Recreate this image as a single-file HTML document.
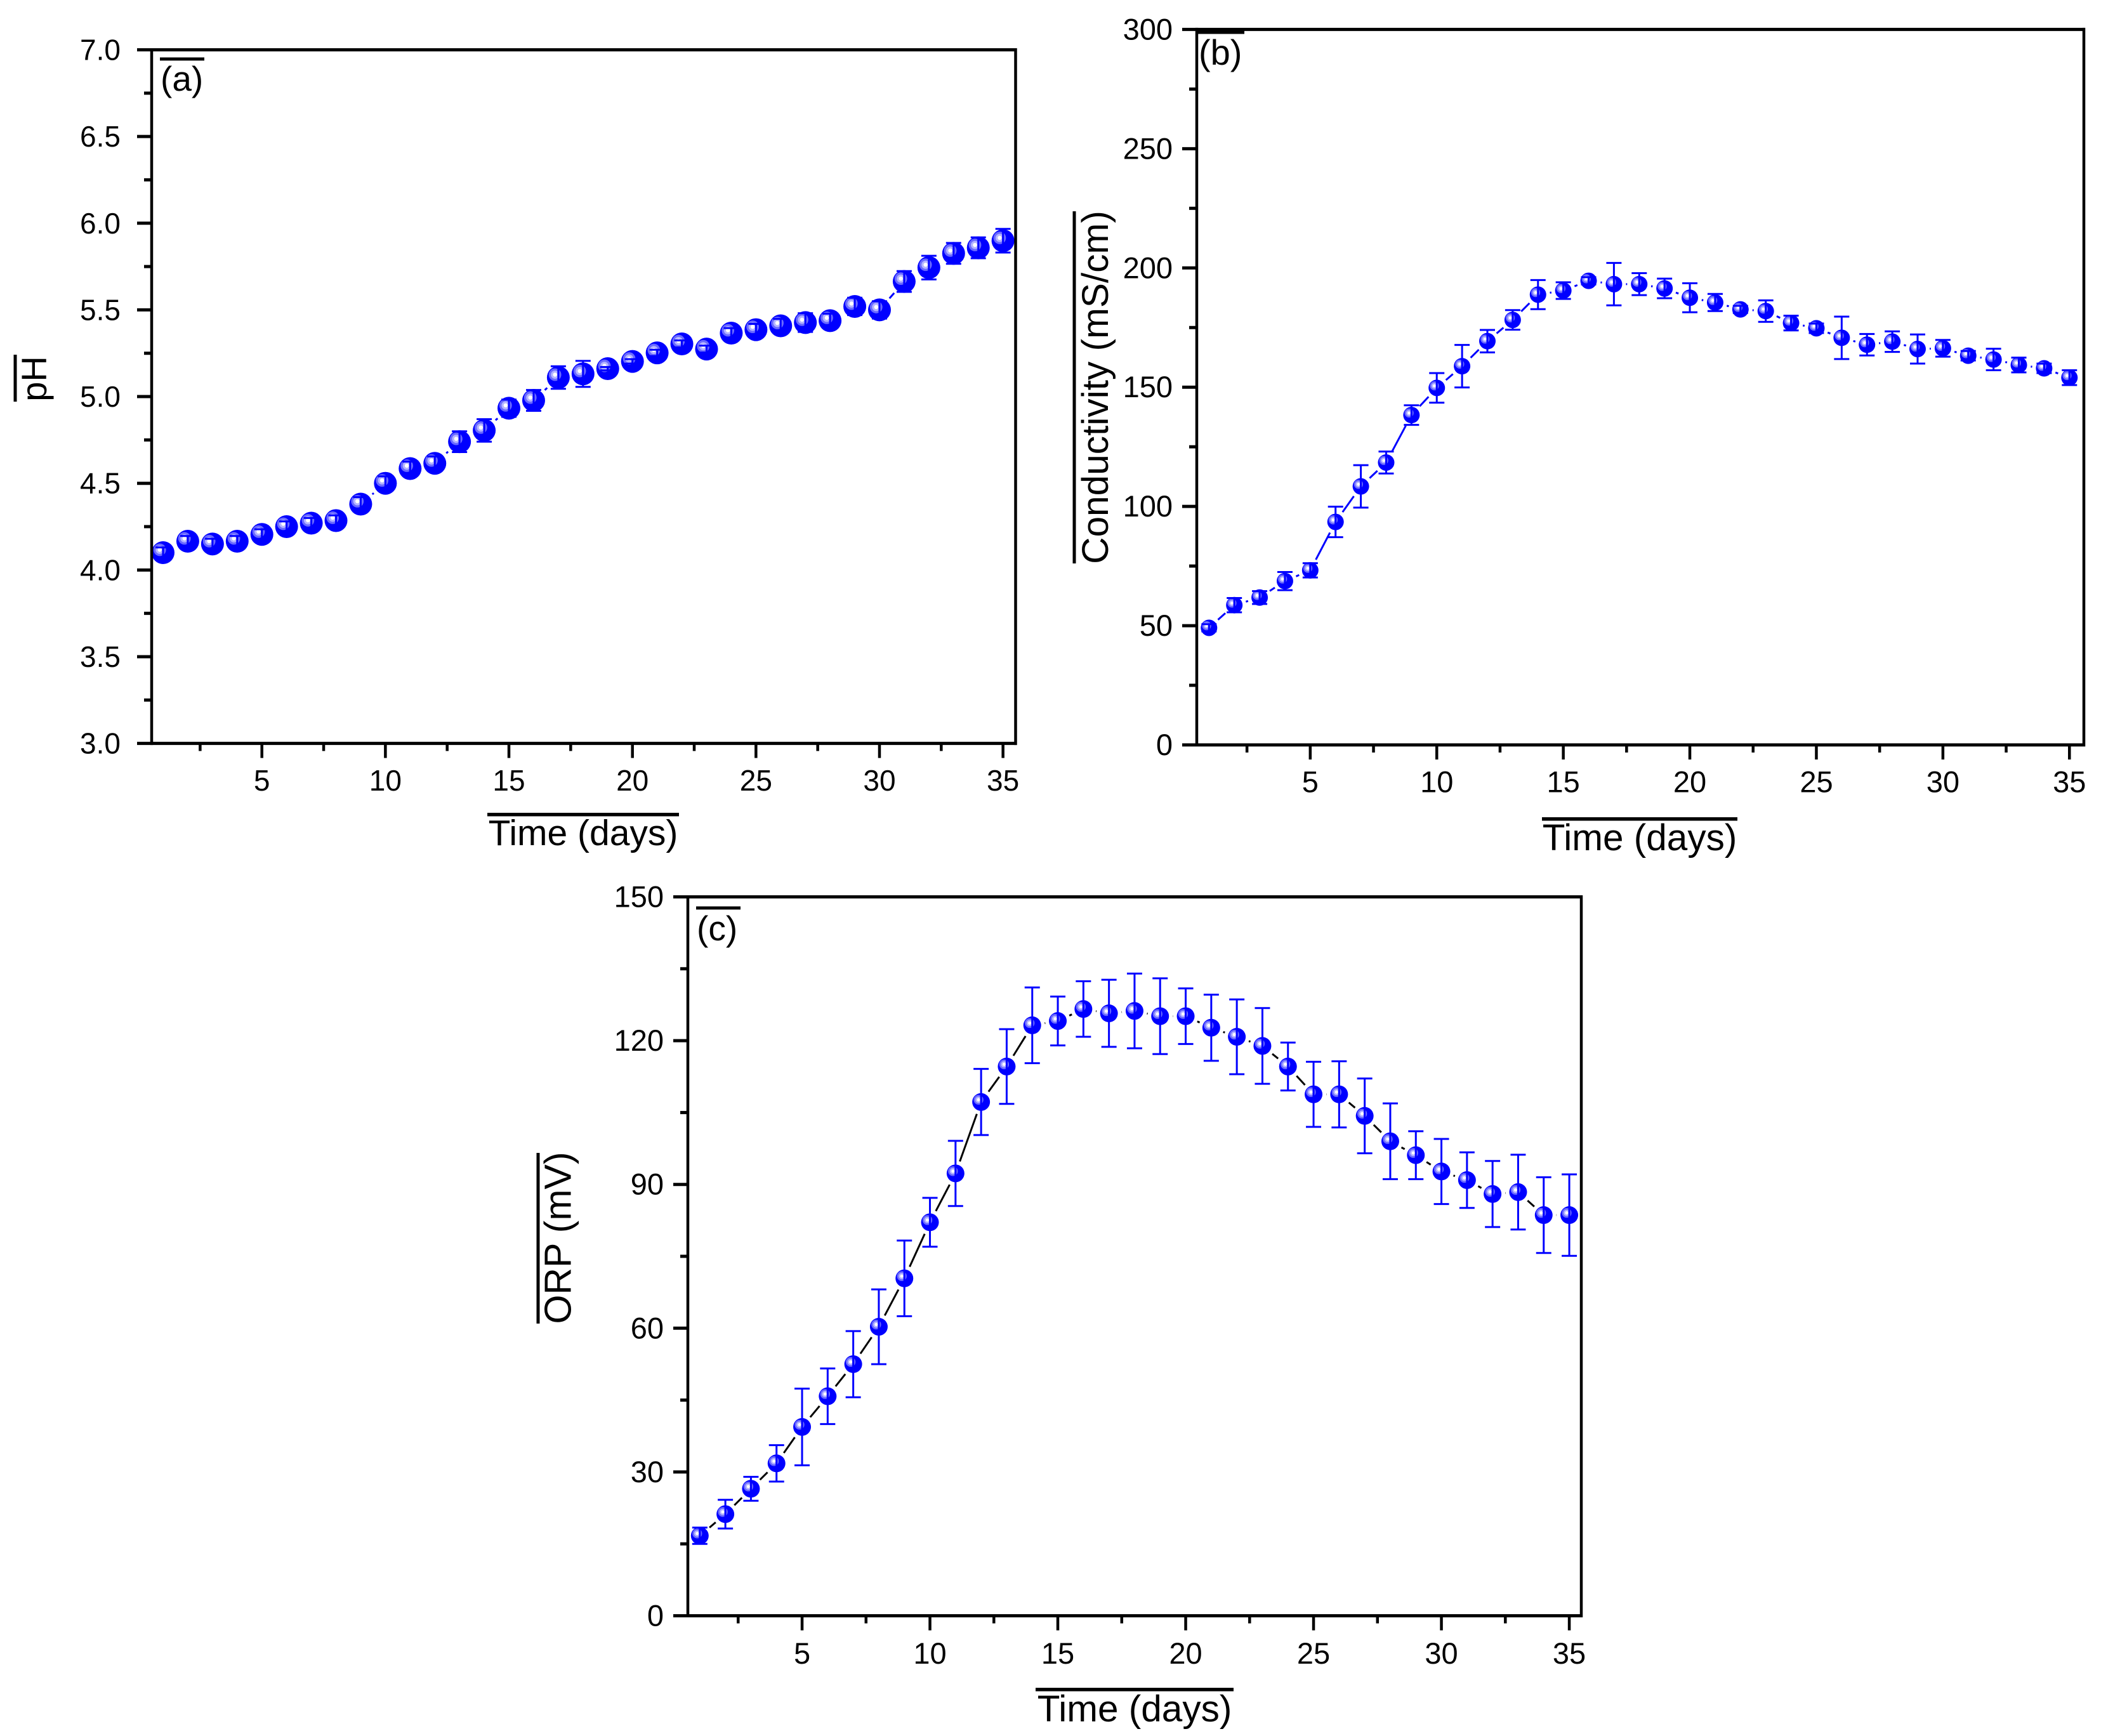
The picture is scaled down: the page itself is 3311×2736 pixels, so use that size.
<!DOCTYPE html>
<html lang="en">
<head>
<meta charset="utf-8">
<title>pH, conductivity and ORP over time</title>
<style>
html,body{margin:0;padding:0;background:#fff;}
svg{display:block;}
text{font-family:"Liberation Sans",sans-serif;fill:#000;}
</style>
</head>
<body>
<svg id="figure" xmlns="http://www.w3.org/2000/svg" width="3311" height="2736" viewBox="0 0 3311 2736">
  <rect x="0" y="0" width="3311" height="2736" fill="#fff"/>

  <g id="panel-a"></g>
  <g id="panel-b"></g>
  <g id="panel-c"></g>

  <rect x="252" y="90.5" width="70" height="5"/>
  <text x="253" y="143" font-size="55">(a)</text>
  <rect x="1886" y="48.5" width="75" height="5"/>
  <text x="1889" y="102" font-size="56">(b)</text>
  <rect x="1097" y="1428.5" width="70" height="5"/>
  <text x="1098" y="1482" font-size="55">(c)</text>

  <rect x="768" y="1281" width="302" height="5.5"/>
  <text x="919" y="1332" font-size="57" text-anchor="middle">Time (days)</text>
  <rect x="2430" y="1288" width="308" height="5.5"/>
  <text x="2584" y="1340" font-size="58.5" text-anchor="middle">Time (days)</text>
  <rect x="1632" y="2660" width="312" height="5.5"/>
  <text x="1788" y="2713" font-size="58.5" text-anchor="middle">Time (days)</text>

  <rect x="21.5" y="559" width="5" height="74"/>
  <text transform="translate(73 597) rotate(-90)" font-size="56" text-anchor="middle">pH</text>
  <rect x="1690.5" y="333" width="5" height="555"/>
  <text transform="translate(1746 610.5) rotate(-90)" font-size="58.6" text-anchor="middle">Conductivity (mS/cm)</text>
  <rect x="845.5" y="1817" width="5" height="269"/>
  <text transform="translate(899.5 1951) rotate(-90)" font-size="59" text-anchor="middle">ORP (mV)</text>
</svg>

<script>
// ---------- shared x axis ----------
var days = [1,2,3,4,5,6,7,8,9,10,11,12,13,14,15,16,17,18,19,20,21,22,23,24,25,26,27,28,29,30,31,32,33,34,35];
var xTickValues = [5,10,15,20,25,30,35];
var xMinorTickValues = [2.5,7.5,12.5,17.5,22.5,27.5,32.5];

// ---------- panel (a) pH ----------
var phValues = [4.10,4.166,4.15,4.166,4.205,4.25,4.27,4.285,4.38,4.50,4.585,4.615,4.74,4.805,4.933,4.978,5.11,5.131,5.161,5.203,5.252,5.304,5.274,5.366,5.386,5.408,5.427,5.438,5.52,5.50,5.664,5.744,5.826,5.858,5.899];
var phErrors = [0.03,0.03,0.03,0.03,0.03,0.03,0.03,0.03,0.04,0.04,0.04,0.04,0.06,0.065,0.05,0.06,0.065,0.075,0.01,0.013,0.018,0.02,0.02,0.029,0.033,0.04,0.054,0.04,0.05,0.05,0.06,0.068,0.06,0.06,0.068];
var phTickValues = [3,3.5,4,4.5,5,5.5,6,6.5,7];
var phTickLabels = ["3.0","3.5","4.0","4.5","5.0","5.5","6.0","6.5","7.0"];
var phMinorTickValues = [3.25,3.75,4.25,4.75,5.25,5.75,6.25,6.75];

// ---------- panel (b) conductivity ----------
var condValues = [49.1,58.6,61.8,68.7,73.2,93.5,108.4,118.4,138.3,149.7,158.8,169.3,178.2,188.8,190.5,194.6,193.2,193.2,191.4,187.5,185.5,182.6,181.9,176.9,174.7,170.7,167.8,169.1,166,166.3,163.2,161.6,159.3,157.9,154];
var condErrors = [1.5,3,2.7,3.8,3,6.4,8.9,4.6,4.1,6.2,8.9,4.7,4.1,6.1,3.5,1.5,8.9,4.6,4.1,6.1,3.6,1.5,4.5,3.1,2,8.9,4.5,4.3,6.1,3.5,2,4.5,3.1,2,3.1];
var condTickValues = [0,50,100,150,200,250,300];
var condTickLabels = ["0","50","100","150","200","250","300"];
var condMinorTickValues = [25,75,125,175,225,275];

// ---------- panel (c) ORP ----------
var orpValues = [16.7,21.2,26.5,31.8,39.4,45.8,52.5,60.3,70.4,82.1,92.3,107.2,114.6,123.2,124.1,126.6,125.7,126.2,125.1,125.1,122.7,120.8,118.9,114.6,108.8,108.8,104.3,99,96.1,92.7,90.9,88,88.4,83.6,83.6];
var orpErrors = [1.7,3,2.5,3.8,8,5.8,6.9,7.8,7.9,5.1,6.8,6.9,7.8,7.9,5.1,5.8,7,7.8,7.9,5.8,6.9,7.8,7.9,5,6.8,6.9,7.8,7.9,5,6.8,5.8,6.9,7.8,7.9,8.5];
var orpTickValues = [0,30,60,90,120,150];
var orpTickLabels = ["0","30","60","90","120","150"];
var orpMinorTickValues = [15,45,75,105,135];

var SVG_NS = "http://www.w3.org/2000/svg";

function shape(tag, parent, attrs) {
  var node = document.createElementNS(SVG_NS, tag);
  for (var k in attrs) { node.setAttribute(k, attrs[k]); }
  parent.appendChild(node);
  return node;
}

function drawPanel(p) {
  var root = document.getElementById(p.id);
  var xAxis = function (d) { return p.left + (d - p.xMin) * (p.right - p.left) / (p.xMax - p.xMin); };
  var yAxis = function (v) { return p.bottom - (v - p.yMin) * (p.bottom - p.top) / (p.yMax - p.yMin); };
  var majorLen = 23, minorLen = 12, i;

  // connecting line segments, trimmed around the markers
  var gap = p.radius + 6;
  for (i = 0; i < p.values.length - 1; i++) {
    var x1 = xAxis(days[i]), y1 = yAxis(p.values[i]);
    var x2 = xAxis(days[i + 1]), y2 = yAxis(p.values[i + 1]);
    var dist = Math.sqrt((x2 - x1) * (x2 - x1) + (y2 - y1) * (y2 - y1));
    if (dist <= gap * 2) { continue; }
    var ux = (x2 - x1) / dist, uy = (y2 - y1) / dist;
    var seg = shape("line", root, {x1: x1 + ux * gap, y1: y1 + uy * gap, x2: x2 - ux * gap, y2: y2 - uy * gap, stroke: p.lineColor, "stroke-width": 3});
    
    
  }

  // markers
  for (i = 0; i < p.values.length; i++) {
    var cx = xAxis(days[i]), cy = yAxis(p.values[i]), r = p.radius;
    var marker = shape("g", root, {});
    
    
    shape("circle", marker, {cx: cx, cy: cy, r: r, fill: "#0000ff"});
    var hx = cx - 0.29 * r, hy = cy - 0.25 * r;
    shape("circle", marker, {cx: hx, cy: hy, r: 0.55 * r, fill: "#6a6aff"});
    shape("circle", marker, {cx: hx, cy: hy, r: 0.36 * r, fill: "#b4b4ff"});
    shape("circle", marker, {cx: hx, cy: hy, r: 0.18 * r, fill: "#ffffff"});
  }

  // error bars
  for (i = 0; i < p.values.length; i++) {
    var ex = xAxis(days[i]), top = yAxis(p.values[i] + p.errors[i]), bot = yAxis(p.values[i] - p.errors[i]);
    var bar = shape("path", root, {d: "M" + (ex - 12) + " " + top + "H" + (ex + 12) + "M" + ex + " " + top + "V" + bot + "M" + (ex - 12) + " " + bot + "H" + (ex + 12), fill: "none", stroke: "#0000ff", "stroke-width": 3});
    
    
  }

  // frame
  var frame = shape("path", root, {d: "M" + p.right + " " + (p.top - 2.5) + "V" + (p.bottom + 2.5), fill: "none", stroke: "#000", "stroke-width": 4.5});
  
  
  var leftAxis = shape("path", root, {d: "M" + p.left + " " + (p.top - 2.5) + "V" + (p.bottom + 2.5), fill: "none", stroke: "#000", "stroke-width": 4.5});
  
  
  var bottomAxis = shape("path", root, {d: "M" + p.left + " " + p.bottom + "H" + (p.right + 2), fill: "none", stroke: "#000", "stroke-width": 5});
  
  
  var topAxis = shape("path", root, {d: "M" + p.left + " " + p.top + "H" + (p.right + 2), fill: "none", stroke: "#000", "stroke-width": 5});
  
  

  // x ticks
  for (i = 0; i < xTickValues.length; i++) {
    var tx = xAxis(xTickValues[i]);
    var xt = shape("line", root, {x1: tx, y1: p.bottom, x2: tx, y2: p.bottom + majorLen, stroke: "#000", "stroke-width": 4.5});
    
    
    var xl = shape("text", root, {x: tx, y: p.bottom + p.xLabelOffset, "font-size": p.tickFont, "text-anchor": "middle"});
    xl.textContent = String(xTickValues[i]);
    
    
  }
  for (i = 0; i < xMinorTickValues.length; i++) {
    var mx = xAxis(xMinorTickValues[i]);
    var xm = shape("line", root, {x1: mx, y1: p.bottom, x2: mx, y2: p.bottom + minorLen, stroke: "#000", "stroke-width": 4.5});
    
    
  }

  // y ticks
  for (i = 0; i < p.yTicks.length; i++) {
    var ty = yAxis(p.yTicks[i]);
    var yt = shape("line", root, {x1: p.left, y1: ty, x2: p.left - majorLen, y2: ty, stroke: "#000", "stroke-width": 5});
    
    
    var yl = shape("text", root, {x: p.yLabelX, y: ty + 16, "font-size": p.tickFont, "text-anchor": "end"});
    yl.textContent = p.yLabels[i];
    
    
  }
  for (i = 0; i < p.yMinor.length; i++) {
    var my = yAxis(p.yMinor[i]);
    var ym = shape("line", root, {x1: p.left, y1: my, x2: p.left - minorLen, y2: my, stroke: "#000", "stroke-width": 5});
    
    
  }
}

drawPanel({id: "panel-a", left: 239, right: 1600.5, top: 78.5, bottom: 1171.6, xMin: 0.538, xMax: 35.51, yMin: 3, yMax: 7,
  values: phValues, errors: phErrors, yTicks: phTickValues, yLabels: phTickLabels, yMinor: phMinorTickValues,
  radius: 18, lineColor: "#0000ff", tickFont: 46, xLabelOffset: 74.5, yLabelX: 190});
drawPanel({id: "panel-b", left: 1886, right: 3284, top: 46.4, bottom: 1174, xMin: 0.516, xMax: 35.57, yMin: 0, yMax: 300,
  values: condValues, errors: condErrors, yTicks: condTickValues, yLabels: condTickLabels, yMinor: condMinorTickValues,
  radius: 13, lineColor: "#0000ff", tickFont: 47, xLabelOffset: 74.5, yLabelX: 1848});
drawPanel({id: "panel-c", left: 1084, right: 2492, top: 1413.5, bottom: 2546.5, xMin: 0.533, xMax: 35.47, yMin: 0, yMax: 150,
  values: orpValues, errors: orpErrors, yTicks: orpTickValues, yLabels: orpTickLabels, yMinor: orpMinorTickValues,
  radius: 14, lineColor: "#000000", tickFont: 47, xLabelOffset: 75.5, yLabelX: 1046});
</script>
</body>
</html>
